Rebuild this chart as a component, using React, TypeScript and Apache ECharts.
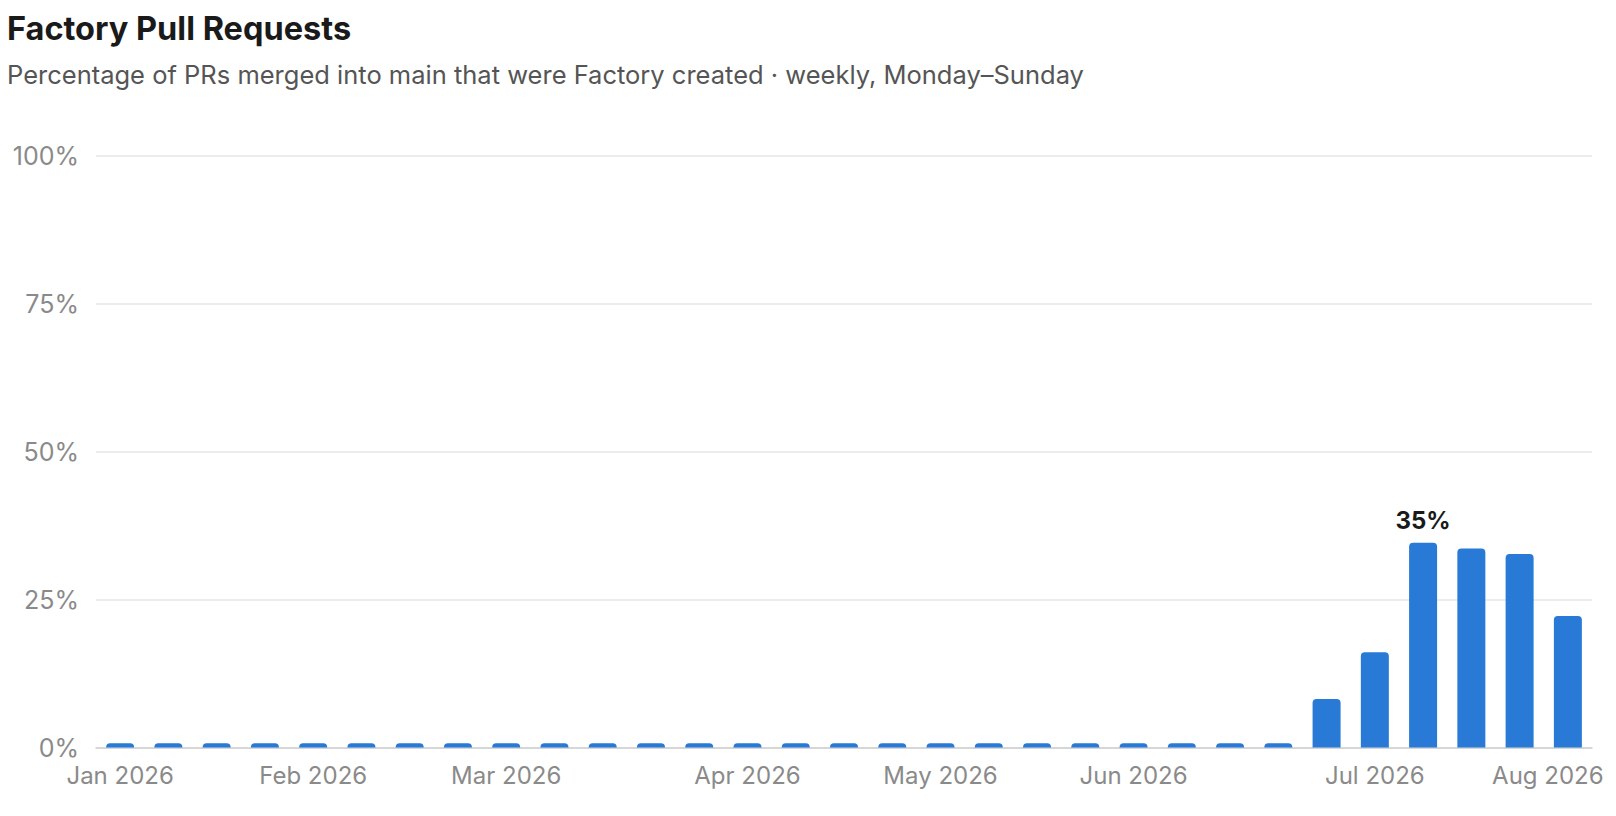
import React, { useEffect, useRef } from "react";
import * as echarts from "echarts";

const TITLE = "Factory Pull Requests";
const SUBTITLE = "Percentage of PRs merged into main that were Factory created · weekly, Monday–Sunday";

// Week start dates (Monday) – categories
const weeks: string[] = [
  "2026-01-05", "2026-01-12", "2026-01-19", "2026-01-26",
  "2026-02-02", "2026-02-09", "2026-02-16", "2026-02-23",
  "2026-03-02", "2026-03-09", "2026-03-16", "2026-03-23", "2026-03-30",
  "2026-04-06", "2026-04-13", "2026-04-20", "2026-04-27",
  "2026-05-04", "2026-05-11", "2026-05-18", "2026-05-25",
  "2026-06-01", "2026-06-08", "2026-06-15", "2026-06-22", "2026-06-29",
  "2026-07-06", "2026-07-13", "2026-07-20", "2026-07-27",
  "2026-08-03",
];

// Percentage of merged PRs created by Factory
const factoryPct: number[] = [
  0.7, 0.7, 0.7, 0.7,
  0.7, 0.7, 0.7, 0.7,
  0.7, 0.7, 0.7, 0.7, 0.7,
  0.7, 0.7, 0.7, 0.7,
  0.7, 0.7, 0.7, 0.7,
  0.7, 0.7, 0.7, 0.7, 8.2,
  16.1, 34.6, 33.6, 32.7,
  22.2,
];

const yTicks: number[] = [0, 25, 50, 75, 100];
const monthNames: string[] = ["Jan", "Feb", "Mar", "Apr", "May", "Jun", "Jul", "Aug", "Sep", "Oct", "Nov", "Dec"];

const FONT = "Inter, 'Noto Sans', sans-serif";

export default function App() {
  const ref = useRef<HTMLDivElement>(null);

  useEffect(() => {
    document.body.style.margin = "0";
    if (!ref.current) return;
    const chart = echarts.init(ref.current, undefined, { renderer: "svg" });

    const maxVal = Math.max(...factoryPct);
    const maxIdx = factoryPct.indexOf(maxVal);
    const lastIdx = weeks.length - 1;

    const data = factoryPct.map((v, i) =>
      i === maxIdx
        ? {
            value: v,
            label: {
              show: true,
              position: "top",
              distance: 10,
              formatter: (p: any) => `${Math.round(p.value)}%`,
              fontFamily: FONT,
              fontSize: 24,
              fontWeight: 700,
              color: "#1a1a1a",
            },
          }
        : v
    );

    chart.setOption({
      animation: false,
      textStyle: { fontFamily: FONT },
      title: {
        text: TITLE,
        subtext: SUBTITLE,
        left: 7,
        top: 11.75,
        padding: 0,
        itemGap: 17,
        textStyle: { fontFamily: FONT, fontSize: 32.5, lineHeight: 32.5, fontWeight: 700, color: "#1a1a1a" },
        subtextStyle: { fontFamily: FONT, fontSize: 25.5, lineHeight: 25.5, color: "#555555" },
      },
      grid: {
        left: 96,
        right: 24,
        top: 155.5,
        bottom: 68.5,
        containLabel: false,
        outerBoundsMode: "none",
      },
      xAxis: {
        type: "category",
        data: weeks,
        axisTick: { show: false },
        axisLine: { show: true, lineStyle: { color: "#cfcfcf", width: 1.5 } },
        axisLabel: {
          margin: 16,
          fontFamily: FONT,
          fontSize: 24,
          lineHeight: 24,
          color: "#8a8a8a",
          hideOverlap: false,
          interval: (idx: number, val: string) => Number(val.slice(8, 10)) <= 7,
          formatter: (val: string, idx: number) => {
            const m = monthNames[Number(val.slice(5, 7)) - 1];
            const s = `${m} ${val.slice(0, 4)}`;
            return idx === lastIdx ? `{last|${s}}` : s;
          },
          rich: {
            last: {
              fontFamily: FONT,
              fontSize: 24,
              lineHeight: 24,
              color: "#8a8a8a",
              padding: [0, 40, 0, 0],
            },
          },
        },
      },
      yAxis: {
        type: "value",
        min: yTicks[0],
        max: yTicks[yTicks.length - 1],
        interval: yTicks[1] - yTicks[0],
        axisLine: { show: false },
        axisTick: { show: false },
        axisLabel: {
          margin: 17,
          fontFamily: FONT,
          fontSize: 25,
          color: "#8a8a8a",
          formatter: "{value}%",
        },
        splitLine: { lineStyle: { color: "#e6e6e6", width: 1.5 } },
      },
      series: [
        {
          type: "bar",
          data,
          barWidth: 28,
          itemStyle: { color: "#2979D6", borderRadius: [4, 4, 0, 0] },
        },
      ],
    });

    return () => chart.dispose();
  }, []);

  return <div ref={ref} style={{ width: 1616, height: 816 }} />;
}
